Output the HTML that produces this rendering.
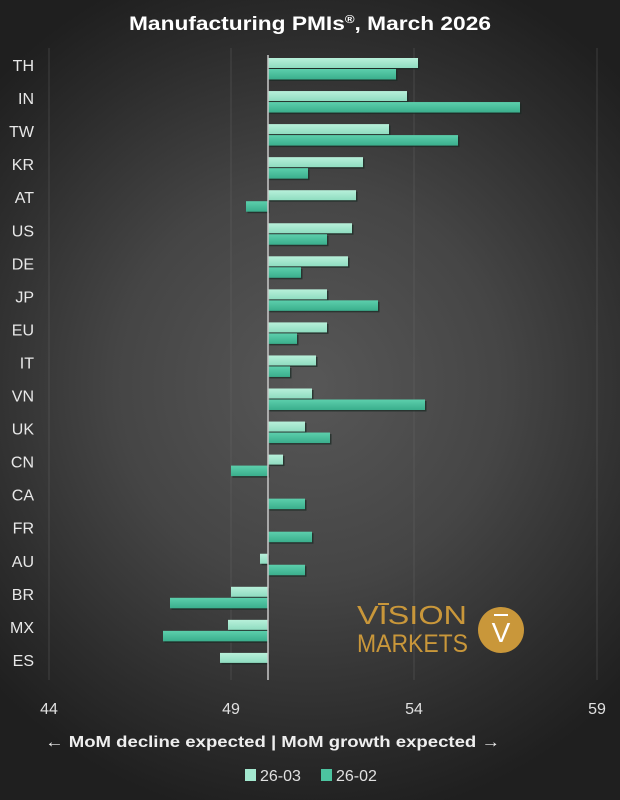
<!DOCTYPE html>
<html><head><meta charset="utf-8"><style>
html,body{margin:0;padding:0;width:620px;height:800px;overflow:hidden}
body{background:radial-gradient(ellipse 70% 55% at 50% 48%,#575757 0%,#454545 45%,#2c2c2c 80%,#1f1f1f 100%)}
svg{position:absolute;left:0;top:0}
text{font-family:"Liberation Sans","DejaVu Sans",sans-serif}
</style></head><body>
<svg width="620" height="800" viewBox="0 0 620 800">
<defs>
<linearGradient id="gl" x1="0" y1="0" x2="0" y2="1"><stop offset="0" stop-color="#b8f0da"/><stop offset="1" stop-color="#8fdcc0"/></linearGradient>
<linearGradient id="gd" x1="0" y1="0" x2="0" y2="1"><stop offset="0" stop-color="#5ccfac"/><stop offset="1" stop-color="#3aae8c"/></linearGradient>
</defs>
<text x="129" y="30" fill="#fff" font-size="19" font-weight="bold" textLength="362" lengthAdjust="spacingAndGlyphs">Manufacturing PMIs<tspan font-size="11" dy="-7">®</tspan><tspan dy="7">, March 2026</tspan></text>
<g stroke="#6a6a6a" stroke-width="1" opacity="0.4">
<line x1="49" y1="48" x2="49" y2="680"/><line x1="231" y1="48" x2="231" y2="680"/><line x1="414" y1="48" x2="414" y2="680"/><line x1="597" y1="48" x2="597" y2="680"/>
</g>
<g id="bars"></g>
<line x1="268" y1="55" x2="268" y2="680" stroke="#c8c8c8" stroke-width="1.5"/>
<g fill="#e8e8e8" font-size="16" text-anchor="end" id="labels"></g>
<g fill="#e0e0e0" font-size="16" text-anchor="middle">
<text x="49" y="714">44</text><text x="231" y="714">49</text><text x="414" y="714">54</text><text x="597" y="714">59</text>
</g>
<text x="45" y="747" fill="#eee" font-size="16" font-weight="bold" textLength="455" lengthAdjust="spacingAndGlyphs">← MoM decline expected | MoM growth expected →</text>
<rect x="245" y="769" width="11" height="12" fill="#a3e8cf"/><text x="260" y="781" fill="#e0e0e0" font-size="16">26-03</text>
<rect x="321" y="769" width="11" height="12" fill="#4cc4a0"/><text x="336" y="781" fill="#e0e0e0" font-size="16">26-02</text>
<g fill="#c9973a">
<text x="357" y="624" font-size="26" textLength="110" lengthAdjust="spacingAndGlyphs">VISION</text>
<rect x="378" y="603" width="11" height="2"/>
<text x="357" y="652" font-size="25" textLength="111" lengthAdjust="spacingAndGlyphs">MARKETS</text>
<circle cx="501" cy="630" r="23"/>
</g>
<text x="501" y="642" text-anchor="middle" font-size="28" fill="#fff">V</text>
<rect x="494" y="614" width="14" height="2" fill="#fff"/>
</svg>
<script>
var d=[["TH",418,396],["IN",407,520],["TW",389,458],["KR",363,308],["AT",356,246],["US",352,327],["DE",348,301],["JP",327,378],["EU",327,297],["IT",316,290],["VN",312,425],["UK",305,330],["CN",283,231],["CA",null,305],["FR",null,312],["AU",260,305],["BR",231,170],["MX",228,163],["ES",220,null]];
var ns="http://www.w3.org/2000/svg",b=document.getElementById("bars"),l=document.getElementById("labels");
function r(x1,y,h,f){if(x1==null)return;var x=Math.min(x1,268),w=Math.abs(x1-268);
var s=document.createElementNS(ns,"rect");s.setAttribute("x",x+1.5);s.setAttribute("y",y+1.5);s.setAttribute("width",w);s.setAttribute("height",h);s.setAttribute("fill","#1a2a24");s.setAttribute("opacity","0.7");b.appendChild(s);
var e=document.createElementNS(ns,"rect");e.setAttribute("x",x);e.setAttribute("y",y);e.setAttribute("width",w);e.setAttribute("height",h);e.setAttribute("fill",f);b.appendChild(e);}
d.forEach(function(v,i){var c=65+33.05*i;r(v[1],c-7,10,"url(#gl)");r(v[2],c+4,10.5,"url(#gd)");
var t=document.createElementNS(ns,"text");t.setAttribute("x",34);t.setAttribute("y",c+6);t.textContent=v[0];l.appendChild(t);});
</script>
</body></html>
